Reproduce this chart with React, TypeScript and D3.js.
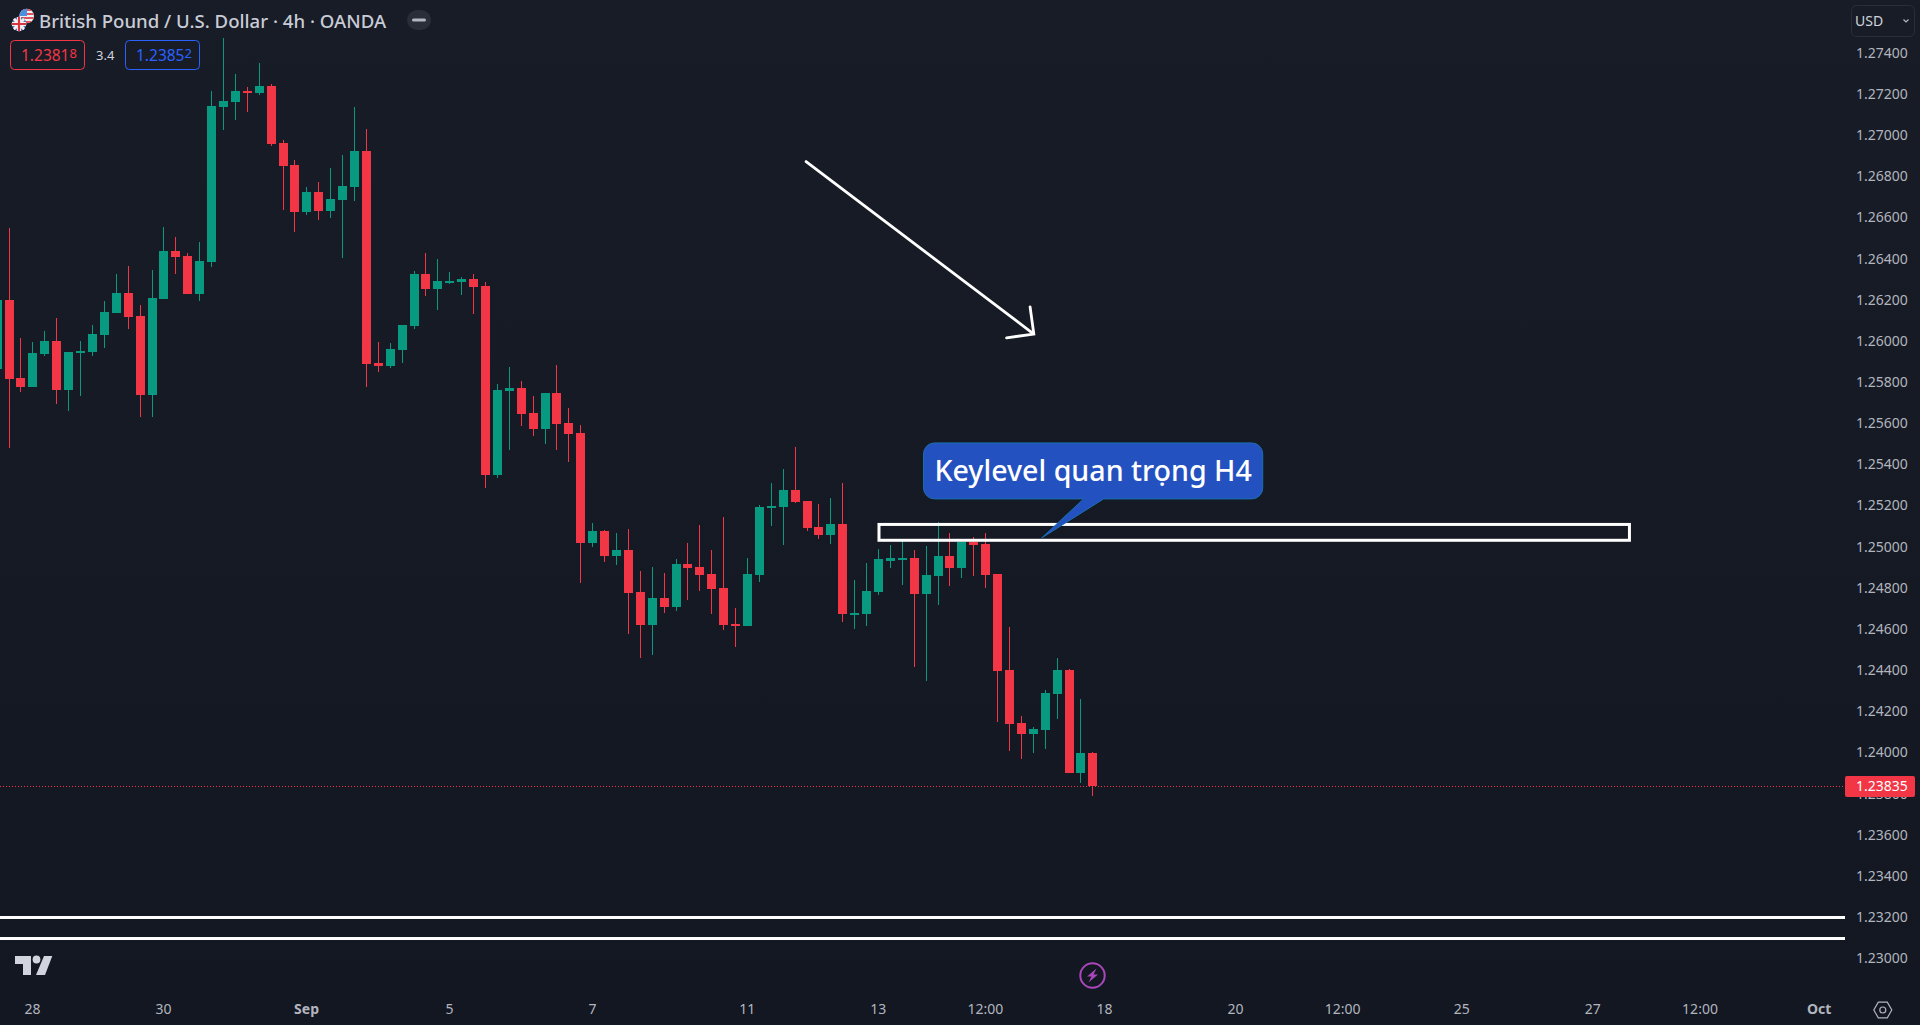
import React, {useEffect, useRef} from 'react';
import * as d3 from 'd3';

const width = 1920;
const height = 1025;
const uiFont = '"Noto Sans", sans-serif';

// GBPUSD 4h bars
const opens = [
    1.25863, 1.26199, 1.25820, 1.25776, 1.25936, 1.25999, 1.25761, 1.25941, 1.25946, 1.26029,
    1.26135, 1.26233, 1.26121, 1.25737, 1.26204, 1.26437, 1.26412, 1.26228, 1.26383, 1.27136,
    1.27161, 1.27214, 1.27204, 1.27238, 1.26962, 1.26855, 1.26626, 1.26723, 1.26631, 1.26685,
    1.26748, 1.26923, 1.25893, 1.25878, 1.25956, 1.26072, 1.26325, 1.26252, 1.26286, 1.26286,
    1.26301, 1.26267, 1.25348, 1.25756, 1.25771, 1.25650, 1.25572, 1.25747, 1.25601, 1.25552,
    1.25018, 1.25076, 1.24955, 1.24984, 1.24780, 1.24619, 1.24751, 1.24707, 1.24916, 1.24901,
    1.24867, 1.24799, 1.24624, 1.24615, 1.24862, 1.25188, 1.25193, 1.25275, 1.25222, 1.25096,
    1.25057, 1.25110, 1.24673, 1.24673, 1.24780, 1.24930, 1.24940, 1.24945, 1.24770, 1.24858,
    1.24955, 1.24896, 1.25023, 1.25013, 1.24867, 1.24401, 1.24143, 1.24090, 1.24109, 1.24284,
    1.24401, 1.23900, 1.23998,
];
const highs = [
    1.26199, 1.26548, 1.26014, 1.25995, 1.26048, 1.26111, 1.25946, 1.25999, 1.26077, 1.26194,
    1.26325, 1.26364, 1.26174, 1.26344, 1.26553, 1.26505, 1.26427, 1.26480, 1.27214, 1.27472,
    1.27297, 1.27234, 1.27350, 1.27248, 1.26976, 1.26879, 1.26748, 1.26772, 1.26840, 1.26903,
    1.27136, 1.27030, 1.25995, 1.25990, 1.26077, 1.26340, 1.26427, 1.26398, 1.26335, 1.26310,
    1.26325, 1.26286, 1.25790, 1.25873, 1.25805, 1.25732, 1.25747, 1.25883, 1.25674, 1.25591,
    1.25115, 1.25081, 1.25067, 1.25086, 1.24882, 1.24901, 1.24872, 1.24940, 1.25018, 1.25105,
    1.24984, 1.25144, 1.24702, 1.24945, 1.25203, 1.25309, 1.25378, 1.25484, 1.25222, 1.25207,
    1.25237, 1.25309, 1.24838, 1.24921, 1.24989, 1.25008, 1.25028, 1.24984, 1.25003, 1.25120,
    1.25067, 1.25037, 1.25047, 1.25067, 1.24867, 1.24610, 1.24177, 1.24124, 1.24304, 1.24459,
    1.24406, 1.24260, 1.24002,
];
const lows = [
    1.25863, 1.25480, 1.25752, 1.25776, 1.25927, 1.25693, 1.25659, 1.25732, 1.25927, 1.25965,
    1.26135, 1.26058, 1.25630, 1.25630, 1.26204, 1.26325, 1.26228, 1.26194, 1.26359, 1.27025,
    1.27073, 1.27112, 1.27195, 1.26947, 1.26636, 1.26529, 1.26612, 1.26587, 1.26597, 1.26403,
    1.26680, 1.25776, 1.25849, 1.25868, 1.25893, 1.26058, 1.26218, 1.26150, 1.26276, 1.26223,
    1.26131, 1.25285, 1.25334, 1.25470, 1.25586, 1.25538, 1.25499, 1.25470, 1.25411, 1.24824,
    1.24999, 1.24926, 1.24911, 1.24576, 1.24459, 1.24474, 1.24678, 1.24688, 1.24741, 1.24785,
    1.24673, 1.24595, 1.24513, 1.24615, 1.24828, 1.25101, 1.25008, 1.25212, 1.25076, 1.25037,
    1.25013, 1.24634, 1.24600, 1.24615, 1.24765, 1.24896, 1.24814, 1.24415, 1.24347, 1.24717,
    1.24809, 1.24848, 1.24858, 1.24799, 1.24148, 1.24007, 1.23968, 1.23998, 1.24017, 1.24163,
    1.23900, 1.23852, 1.23789,
];
const closes = [
    1.26199, 1.25815, 1.25776, 1.25941, 1.25999, 1.25761, 1.25946, 1.25951, 1.26033, 1.26140,
    1.26233, 1.26116, 1.25737, 1.26208, 1.26437, 1.26408, 1.26228, 1.26388, 1.27141, 1.27166,
    1.27214, 1.27204, 1.27238, 1.26957, 1.26850, 1.26626, 1.26723, 1.26631, 1.26689, 1.26753,
    1.26923, 1.25888, 1.25878, 1.25961, 1.26077, 1.26325, 1.26252, 1.26291, 1.26291, 1.26301,
    1.26262, 1.25348, 1.25761, 1.25771, 1.25645, 1.25572, 1.25747, 1.25596, 1.25548, 1.25018,
    1.25076, 1.24955, 1.24984, 1.24775, 1.24619, 1.24751, 1.24707, 1.24916, 1.24896, 1.24862,
    1.24794, 1.24619, 1.24615, 1.24867, 1.25193, 1.25198, 1.25275, 1.25217, 1.25091, 1.25057,
    1.25110, 1.24673, 1.24678, 1.24785, 1.24940, 1.24945, 1.24945, 1.24770, 1.24862, 1.24955,
    1.24896, 1.25023, 1.25008, 1.24862, 1.24396, 1.24138, 1.24090, 1.24114, 1.24289, 1.24401,
    1.23900, 1.23998, 1.23835,
];

const priceTicks = d3.range(0, 23).map(i => 1.23 + i * 0.002);
const timeTickBars = [3, 14, 26, 38, 50, 63, 74, 83, 93, 104, 113, 123, 134, 143, 153];
const timeTickLabels = ['28', '30', 'Sep', '5', '7', '11', '13', '12:00', '18', '20', '12:00', '25', '27', '12:00', 'Oct'];
const boldLabels = ['Sep', 'Oct'];

const lastPrice = 1.23835;
const bidPrice = '1.23818';
const askPrice = '1.23852';
const spread = '3.4';
const title = 'British Pound / U.S. Dollar · 4h · OANDA';

// drawings on the chart, bar index + price
const levelLines = [1.23198, 1.23096];
const keyZone = {bar0: 74.04, bar1: 137.05, top: 1.25108, bottom: 1.25031};
const arrowFrom = {bar: 67.92, price: 1.26871};
const arrowTo = {bar: 87.04, price: 1.26033};
const callout = {
    text: 'Keylevel quan trọng H4',
    bar0: 77.78, bar1: 106.26, top: 1.25504, bottom: 1.25232,
    tailBar0: 91.22, tailBar1: 92.9, tipBar: 87.69, tipPrice: 1.25042,
};

const upColor = '#089981';
const downColor = '#F23645';
const axisText = '#B2B5BE';

const App: React.FC = () => {
    const svgRef = useRef<SVGSVGElement | null>(null);

    useEffect(() => {
        const svg = d3.select(svgRef.current);
        svg.selectAll('*').remove();

        const xScale = d3.scaleLinear().domain([1, 92]).range([9.085, 1092.895]);
        const yScale = d3.scaleLinear().domain([1.23, 1.274]).range([958.3, 52.7]);
        const plotRight = 1845;

        // background
        const defs = svg.append('defs');
        const bg = defs.append('linearGradient')
            .attr('id', 'bg').attr('x1', 0).attr('y1', 0).attr('x2', 0).attr('y2', 1);
        bg.append('stop').attr('offset', '0%').attr('stop-color', '#181C27');
        bg.append('stop').attr('offset', '100%').attr('stop-color', '#131722');
        svg.append('rect').attr('width', width).attr('height', height).attr('fill', 'url(#bg)');

        // last price line
        svg.append('line')
            .attr('x1', 0).attr('x2', plotRight)
            .attr('y1', Math.floor(yScale(lastPrice)) + 0.5).attr('y2', Math.floor(yScale(lastPrice)) + 0.5)
            .attr('stroke', downColor).attr('stroke-dasharray', '1 2');

        // candles
        const bars = opens.map((open, i) => ({i, open, high: highs[i], low: lows[i], close: closes[i]}));
        const candle = svg.append('g').selectAll('g').data(bars).enter().append('g')
            .attr('fill', d => d.close >= d.open ? upColor : downColor);
        candle.append('rect')
            .attr('x', d => Math.floor(xScale(d.i)))
            .attr('width', 1)
            .attr('y', d => Math.round(yScale(d.high)))
            .attr('height', d => Math.max(1, Math.round(yScale(d.low)) - Math.round(yScale(d.high))));
        candle.append('rect')
            .attr('x', d => Math.floor(xScale(d.i)) - 4)
            .attr('width', 9)
            .attr('y', d => Math.round(yScale(Math.max(d.open, d.close))))
            .attr('height', d => Math.max(2, Math.round(yScale(Math.min(d.open, d.close))) - Math.round(yScale(Math.max(d.open, d.close)))));

        // horizontal levels
        svg.append('g').selectAll('line').data(levelLines).enter().append('line')
            .attr('x1', 0).attr('x2', plotRight)
            .attr('y1', d => yScale(d)).attr('y2', d => yScale(d))
            .attr('stroke', '#fff').attr('stroke-width', 3);

        // key zone
        svg.append('rect')
            .attr('x', xScale(keyZone.bar0))
            .attr('y', yScale(keyZone.top))
            .attr('width', xScale(keyZone.bar1) - xScale(keyZone.bar0))
            .attr('height', yScale(keyZone.bottom) - yScale(keyZone.top))
            .attr('fill', 'none').attr('stroke', '#fff').attr('stroke-width', 3);

        // trend arrow
        const ax0 = xScale(arrowFrom.bar), ay0 = yScale(arrowFrom.price);
        const ax1 = xScale(arrowTo.bar), ay1 = yScale(arrowTo.price);
        const angle = Math.atan2(ay1 - ay0, ax1 - ax0);
        const headLen = 27.5;
        const headSpread = Math.PI * 0.75;
        const arrow = d3.path();
        arrow.moveTo(ax0, ay0);
        arrow.lineTo(ax1, ay1);
        arrow.moveTo(ax1 + headLen * Math.cos(angle + headSpread), ay1 + headLen * Math.sin(angle + headSpread));
        arrow.lineTo(ax1, ay1);
        arrow.lineTo(ax1 + headLen * Math.cos(angle - headSpread), ay1 + headLen * Math.sin(angle - headSpread));
        svg.append('path').attr('d', arrow.toString())
            .attr('fill', 'none').attr('stroke', '#fff').attr('stroke-width', 2.8).attr('stroke-linecap', 'round');

        // callout bubble
        const cx0 = xScale(callout.bar0), cx1 = xScale(callout.bar1);
        const cy0 = yScale(callout.top), cy1 = yScale(callout.bottom);
        const r = 11;
        const bubble = d3.path();
        bubble.moveTo(cx0 + r, cy0);
        bubble.arcTo(cx1, cy0, cx1, cy1, r);
        bubble.arcTo(cx1, cy1, cx0, cy1, r);
        bubble.lineTo(xScale(callout.tailBar1), cy1);
        bubble.lineTo(xScale(callout.tipBar), yScale(callout.tipPrice));
        bubble.lineTo(xScale(callout.tailBar0), cy1);
        bubble.arcTo(cx0, cy1, cx0, cy0, r);
        bubble.arcTo(cx0, cy0, cx1, cy0, r);
        bubble.closePath();
        svg.append('path').attr('d', bubble.toString())
            .attr('fill', '#2351BF').attr('stroke', '#1A6FAE').attr('stroke-width', 1);
        svg.append('text')
            .attr('x', (cx0 + cx1) / 2).attr('y', (cy0 + cy1) / 2).attr('dy', '.35em')
            .attr('text-anchor', 'middle')
            .attr('font-family', uiFont).attr('font-size', 28.6).attr('font-weight', 500).attr('fill', '#fff')
            .text(callout.text);

        // price axis
        const yAxis = svg.append('g')
            .attr('transform', 'translate(1856,0)')
            .call(d3.axisRight(yScale).tickValues(priceTicks).tickFormat(d3.format('.5f')).tickSize(0).tickPadding(0));
        yAxis.selectAll('text').attr('font-family', uiFont).attr('font-size', 14).attr('fill', axisText);

        // time axis
        const xAxis = svg.append('g')
            .attr('transform', 'translate(-0.8,1004)')
            .call(d3.axisBottom(xScale).tickValues(timeTickBars)
                .tickFormat((_, i) => timeTickLabels[i]).tickSize(0).tickPadding(0));
        xAxis.selectAll('text')
            .attr('font-family', uiFont).attr('font-size', 14).attr('fill', axisText)
            .attr('font-weight', function () {
                return boldLabels.includes(d3.select(this).text()) ? 700 : 400;
            });
        svg.selectAll('.domain').remove();

        // last price tag
        svg.append('rect')
            .attr('x', plotRight).attr('y', Math.floor(yScale(lastPrice)) - 10.5 + 0.5)
            .attr('width', 70).attr('height', 21).attr('rx', 2).attr('fill', downColor);
        svg.append('text')
            .attr('x', 1856).attr('y', yScale(lastPrice)).attr('dy', '.35em')
            .attr('font-family', uiFont).attr('font-size', 14).attr('fill', '#fff')
            .text(d3.format('.5f')(lastPrice));

        // currency button
        svg.append('rect').attr('x', 1851.5).attr('y', 5.5).attr('width', 63).attr('height', 31).attr('rx', 5)
            .attr('fill', 'none').attr('stroke', '#2A2E39');
        svg.append('text').attr('x', 1855).attr('y', 21).attr('dy', '.36em')
            .attr('font-family', uiFont).attr('font-size', 14).attr('fill', '#D1D4DC').text('USD');
        svg.append('path').attr('d', 'M1903.5 19.5l2.5 2.5 2.5-2.5')
            .attr('fill', 'none').attr('stroke', axisText).attr('stroke-width', 1.2);

        // header
        const flagClip = defs.append('clipPath').attr('id', 'usClip');
        flagClip.append('circle').attr('cx', 26.7).attr('cy', 16).attr('r', 7.3);
        const ukClip = defs.append('clipPath').attr('id', 'ukClip');
        ukClip.append('circle').attr('cx', 19).attr('cy', 24).attr('r', 7.3);

        const us = svg.append('g').attr('clip-path', 'url(#usClip)');
        us.append('rect').attr('x', 19).attr('y', 8).attr('width', 16).attr('height', 16).attr('fill', '#F1F1F1');
        d3.range(0, 4).forEach(i => {
            us.append('rect').attr('x', 19).attr('y', 9 + i * 4).attr('width', 16).attr('height', 2).attr('fill', '#E0525E');
        });
        us.append('rect').attr('x', 19).attr('y', 8).attr('width', 8).attr('height', 8).attr('fill', '#4A8FE0');

        const uk = svg.append('g').attr('clip-path', 'url(#ukClip)');
        uk.append('circle').attr('cx', 19).attr('cy', 24).attr('r', 8).attr('fill', '#2B4C9B');
        uk.append('path').attr('d', 'M11 16L27 32M27 16L11 32').attr('stroke', '#F1F1F1').attr('stroke-width', 3);
        uk.append('path').attr('d', 'M19 16V32M11 24H27').attr('stroke', '#F1F1F1').attr('stroke-width', 4.5);
        uk.append('path').attr('d', 'M19 16V32M11 24H27').attr('stroke', '#D8343F').attr('stroke-width', 2.2);

        svg.append('text').attr('x', 39).attr('y', 21).attr('dy', '.35em')
            .attr('font-family', uiFont).attr('font-size', 18.6).attr('font-weight', 500).attr('fill', '#C9CCD6')
            .text(title);

        // collapse pill
        svg.append('rect').attr('x', 407).attr('y', 10).attr('width', 24).attr('height', 20).attr('rx', 10).attr('fill', '#2A2E39');
        svg.append('rect').attr('x', 412).attr('y', 18.5).attr('width', 14).attr('height', 3).attr('rx', 1.5).attr('fill', axisText);

        // bid / spread / ask
        const priceBox = (x: number, w: number, color: string, value: string) => {
            svg.append('rect').attr('x', x + 0.5).attr('y', 40.5).attr('width', w).attr('height', 29).attr('rx', 4)
                .attr('fill', 'none').attr('stroke', color);
            const t = svg.append('text').attr('x', x + 11).attr('y', 61)
                .attr('font-family', uiFont).attr('font-size', 15.5).attr('fill', color);
            t.append('tspan').text(value.slice(0, 6));
            t.append('tspan').attr('font-size', 13).attr('dy', -3).text(value.slice(6));
        };
        priceBox(10, 74, downColor, bidPrice);
        priceBox(125, 74, '#2962FF', askPrice);
        svg.append('text').attr('x', 96).attr('y', 60)
            .attr('font-family', uiFont).attr('font-size', 13).attr('fill', '#D1D4DC').text(spread);

        // TradingView mark
        const logo = svg.append('g').attr('fill', '#D1D4DC');
        logo.append('path').attr('d', 'M15 956H31V975H23V964H15Z');
        logo.append('circle').attr('cx', 36.5).attr('cy', 959.5).attr('r', 3.9);
        logo.append('path').attr('d', 'M44 956H52.3L45 975H36Z');

        // bolt badge
        svg.append('circle').attr('cx', 1092.5).attr('cy', 975.5).attr('r', 12.2)
            .attr('fill', 'none').attr('stroke', '#AB47BC').attr('stroke-width', 2);
        svg.append('path').attr('d', 'M1096.5 968.5L1087 976.5H1091.5L1088.5 982.5L1098 974.5H1093.5Z').attr('fill', '#AB47BC');

        // settings hexagon
        const hex = d3.line()(d3.range(0, 6).map(i => {
            const a = i * Math.PI / 3;
            return [1882.8 + 9 * Math.cos(a), 1010 + 9 * Math.sin(a)] as [number, number];
        }));
        svg.append('path').attr('d', hex + 'Z').attr('fill', 'none').attr('stroke', axisText).attr('stroke-width', 1.2);
        svg.append('circle').attr('cx', 1882.8).attr('cy', 1010).attr('r', 3)
            .attr('fill', 'none').attr('stroke', axisText).attr('stroke-width', 1.2);
    }, []);

    return <svg ref={svgRef} width={width} height={height}
                style={{position: 'absolute', left: 0, top: 0, display: 'block'}}></svg>;
};

export default App;
